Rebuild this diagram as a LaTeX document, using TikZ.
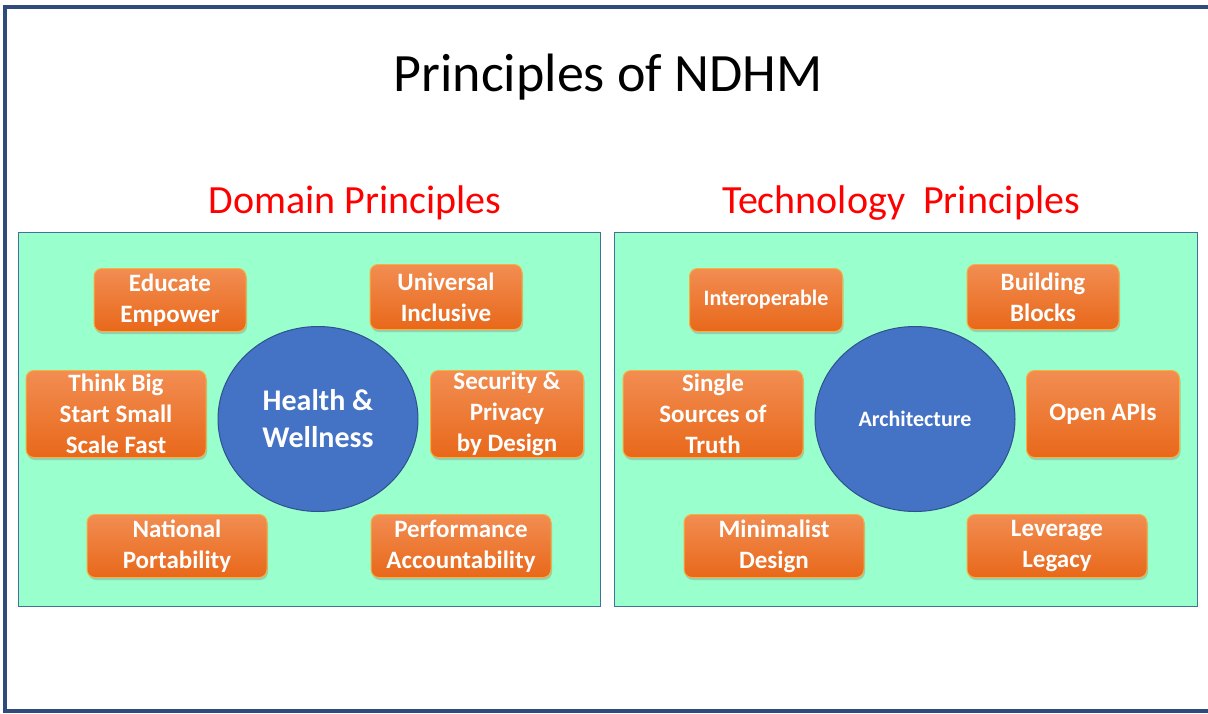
\documentclass[tikz,border=0pt]{standalone}
\usepackage{fontspec}
\setmainfont{Carlito}
\usepackage{tikz}
\usetikzlibrary{positioning,shadows,calc,shapes}
\usepackage{xcolor}
\definecolor{frameblue}{HTML}{2F4B7C}
\definecolor{panelgreen}{HTML}{99FFCC}
\definecolor{paneledge}{HTML}{41719C}
\definecolor{boxtop}{HTML}{F28D52}
\definecolor{boxbot}{HTML}{E8681A}
\definecolor{boxedge}{HTML}{F5B041}
\definecolor{hubblue}{HTML}{4472C4}
\definecolor{hubedge}{HTML}{2F528F}
\definecolor{headred}{HTML}{FF0000}

\tikzset{
  panel/.style={draw=paneledge, line width=1pt, fill=panelgreen},
  prin/.style={rounded corners=8pt, draw=boxedge, line width=1pt, top color=boxtop, bottom color=boxbot,
    text=white, align=center, inner sep=0pt, font=\bfseries\fontsize{25}{31}\selectfont,
    drop shadow={shadow xshift=1pt, shadow yshift=-2.5pt, opacity=0.35}},
  hub/.style={ellipse, draw=hubedge, line width=1pt, fill=hubblue, text=white, align=center, inner sep=0pt},
  head/.style={text=headred, font=\fontsize{40}{48}\selectfont}
}

\begin{document}
\begin{tikzpicture}[x=1pt,y=-1pt]
    \useasboundingbox (0,0) rectangle (1208,713);
    \draw [frameblue, line width=4pt] (1208,7) -- (5,7) -- (5,711) -- (1208,711);

    \node (title) at (608,77) [font=\fontsize{54}{62}\selectfont] {Principles of NDHM};
    \node [head] (dom) at (355,203) {Domain Principles};
    \node [head] (tech) at (901,203) {Technology\ \ Principles};

    \draw [panel] (18,232) rectangle (600,606);
    \draw [panel] (614,232) rectangle (1197,606);

    % domain side
    \node [hub, minimum width=200pt, minimum height=185pt, font=\bfseries\fontsize{30}{37}\selectfont] (health) at (318,419) {Health \&\\Wellness};
    \node [prin, minimum width=152pt, minimum height=63pt] (edu) at (170,300) {Educate\\Empower};
    \node [prin, minimum width=152pt, minimum height=65pt] (uni) at (446,297) {Universal\\Inclusive};
    \node [prin, minimum width=180pt, minimum height=87pt] (big) at (116,414) {Think Big\\Start Small\\Scale Fast};
    \node [prin, minimum width=153pt, minimum height=87pt] (sec) at (507,414) {Security \&\\Privacy\\by Design};
    \node [prin, minimum width=180pt, minimum height=63pt] (nat) at (177,546) {National\\Portability};
    \node [prin, minimum width=180pt, minimum height=63pt] (perf) at (461,546) {Performance\\Accountability};

    % technology side
    \node [hub, minimum width=200pt, minimum height=185pt, font=\bfseries\fontsize{22}{26}\selectfont] (arch) at (915,419) {Architecture};
    \node [prin, minimum width=153pt, minimum height=63pt, font=\bfseries\fontsize{22}{31}\selectfont] (inter) at (766,300) {Interoperable};
    \node [prin, minimum width=152pt, minimum height=65pt] (blocks) at (1043,297) {Building\\Blocks};
    \node [prin, minimum width=180pt, minimum height=87pt] (truth) at (713,414) {Single\\Sources of\\Truth};
    \node [prin, minimum width=153pt, minimum height=87pt] (api) at (1103,414) {Open APIs};
    \node [prin, minimum width=180pt, minimum height=63pt] (mini) at (774,546) {Minimalist\\Design};
    \node [prin, minimum width=180pt, minimum height=63pt] (legacy) at (1057,546) {Leverage\\Legacy};
\end{tikzpicture}
\end{document}
